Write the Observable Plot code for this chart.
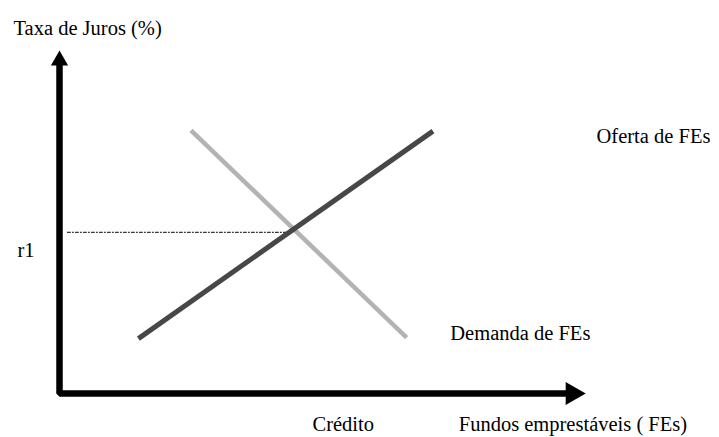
<!DOCTYPE html>
<html>
<head>
<meta charset="utf-8">
<script src="https://cdn.jsdelivr.net/npm/d3@7"></script>
<script src="https://cdn.jsdelivr.net/npm/@observablehq/plot@0.6"></script>
<style>
  html, body { margin: 0; padding: 0; background: #fff; }
</style>
</head>
<body>
<div id="chart"></div>
<script>
// Supply (Oferta) and demand (Demanda) curves of loanable funds
const supplyQ = [15, 71];
const supplyR = [16, 76.5];
const demandQ = [25, 66];
const demandR = [76.7, 16.3];
// equilibrium rate r1 guide
const r1 = 47;
const guideQ = [1.5, 43];
// axes (with arrowheads)
const axisQ = [0, 0, 96.6];
const axisR = [96.3, 0, 0];
const arrowQ = [0, 97.5];
const arrowR = [97.1, 0];
const arrowRot = [0, 90];
// labels
const labelText = ["Taxa de Juros (%)", "r1", "Oferta de FEs", "Demanda de FEs", "Crédito", "Fundos emprestáveis ( FEs)"];
const labelQ = [-8.75, -8, 102.1, 74.3, 48.1, 75.9];
const labelR = [104.4, 39.9, 72.9, 15.7, -10.9, -10.9];

const pts = (qs, rs) => qs.map((q, i) => ({q, r: rs[i]}));
const labels = labelText.map((t, i) => ({t, q: labelQ[i], r: labelR[i]}));
const arrows = arrowQ.map((q, i) => ({q, r: arrowR[i], rot: arrowRot[i]}));

const chart = Plot.plot({
  width: 719,
  height: 437,
  marginLeft: 59,
  marginRight: 134,
  marginTop: 50,
  marginBottom: 44,
  x: {domain: [0, 100], axis: null},
  y: {domain: [0, 100], axis: null},
  style: {fontFamily: "'Liberation Serif', 'Times New Roman', serif", background: "#fff", overflow: "visible"},
  marks: [
    Plot.line(pts(guideQ, [r1, r1]), {x: "q", y: "r", stroke: "#000", strokeWidth: 1, strokeDasharray: "3,2,1,2"}),
    Plot.line(pts(demandQ, demandR), {x: "q", y: "r", stroke: "#b3b3b3", strokeWidth: 4.5, strokeLinecap: "butt"}),
    Plot.line(pts(supplyQ, supplyR), {x: "q", y: "r", stroke: "#474747", strokeWidth: 5, strokeLinecap: "butt"}),
    Plot.line(pts(axisQ, axisR), {x: "q", y: "r", stroke: "#000", strokeWidth: 6.5, strokeLinejoin: "miter", strokeLinecap: "butt"}),
    Plot.dot(arrows.slice(0, 1), {x: "q", y: "r", symbol: "triangle", r: 6.4, fill: "#000", stroke: "none", rotate: "rot"}),
    Plot.dot(arrows.slice(1), {x: "q", y: "r", symbol: "triangle", r: 8.6, fill: "#000", stroke: "none", rotate: "rot"}),
    Plot.text(labels, {x: "q", y: "r", text: "t", textAnchor: "start", lineAnchor: "bottom", fontSize: 20.5, fill: "#000"})
  ]
});
document.getElementById("chart").appendChild(chart);
</script>
</body>
</html>
